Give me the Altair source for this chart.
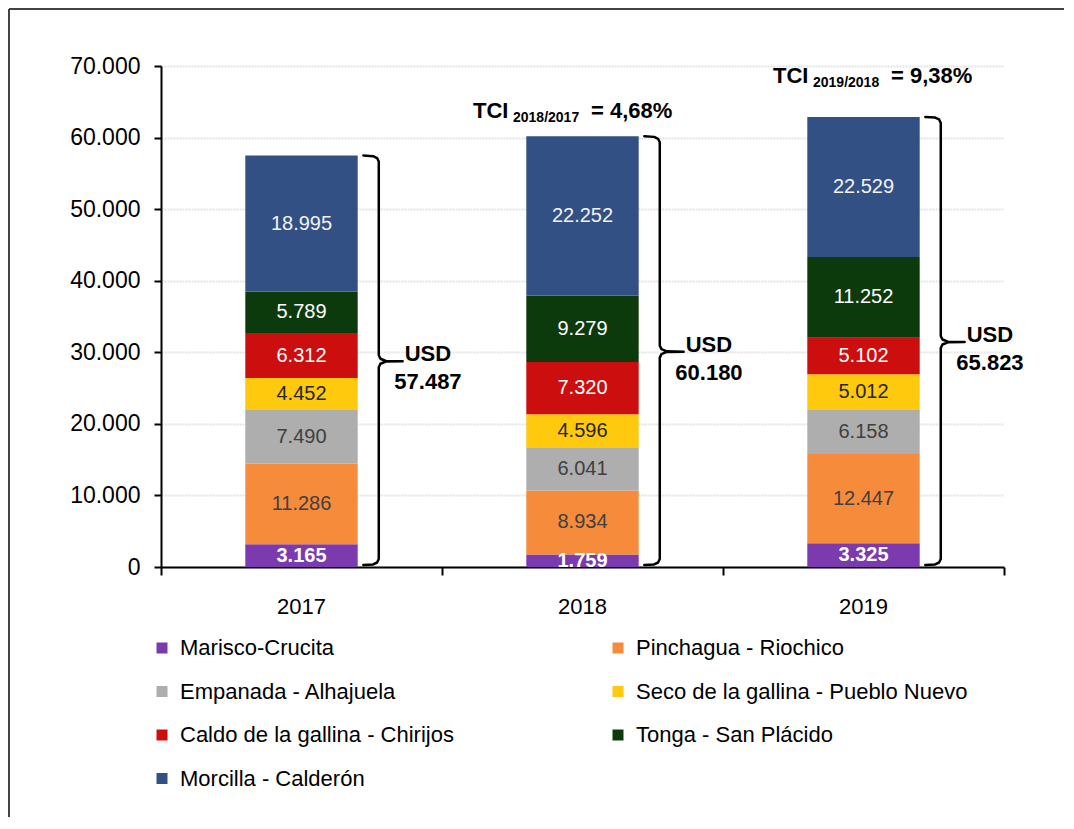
import altair as alt
import pandas as pd

# ---------------- data ----------------
years = ["2017", "2018", "2019"]
series = [
    "Marisco-Crucita",
    "Pinchagua - Riochico",
    "Empanada - Alhajuela",
    "Seco de la gallina - Pueblo Nuevo",
    "Caldo de la gallina - Chirijos",
    "Tonga - San Plácido",
    "Morcilla - Calderón",
]
marisco = [3165, 1759, 3325]
pinchagua = [11286, 8934, 12447]
empanada = [7490, 6041, 6158]
seco = [4452, 4596, 5012]
caldo = [6312, 7320, 5102]
tonga = [5789, 9279, 11252]
morcilla = [18995, 22252, 22529]
# length of the top (Morcilla) segment as it is drawn in the source picture
# (the 2019 segment is drawn shorter than its label says)
morcilla_drawn = [18995, 22252, 19580]
totals = [57487, 60180, 65823]
y_ticks = [0, 10000, 20000, 30000, 40000, 50000, 60000, 70000]

values_by_series = [marisco, pinchagua, empanada, seco, caldo, tonga, morcilla]
drawn_by_series = [marisco, pinchagua, empanada, seco, caldo, tonga, morcilla_drawn]
legend_order = [series[0], series[2], series[4], series[6], series[1], series[3], series[5]]

# ---------------- style / layout ----------------
FONT = "Liberation Sans"
bar_colors = ["#7B3AAE", "#F68B3C", "#AEAEAE", "#FFC90E", "#CC0E0E", "#0C3A0C", "#325084"]
label_colors = ["#FFFFFF", "#404040", "#404040", "#262626", "#FFFFFF", "#FFFFFF", "#F2F2F2"]
W, H = 843, 501
PAD = {"left": 153, "top": 58, "right": 60, "bottom": 250}
YMAX = 70000
UNIT = YMAX / H          # data units per pixel (y)
BAND = W / 3.0           # pixels per category (x)
HALF = 0.2               # bar half width in band units
BR_X0, BR_XV, BR_XT = 0.22, 0.275, 0.36
LBL_X = 0.45
TCI_DX = {"2018": -109.5, "2019": -90.5}   # px offset of "TCI" from bar centre
TCI_DY = {"2018": 18.6, "2019": 34.0}      # px above bar top (baseline)


def fmt(v):
    return f"{v:,}".replace(",", ".")


# ---------------- tables ----------------
rows = []
bar_tops = []
for yi, yr in enumerate(years):
    base = 0
    for si, s in enumerate(series):
        v = values_by_series[si][yi]
        d = drawn_by_series[si][yi]
        rows.append({
            "year": yr, "series": s, "idx": si,
            "xl": yi + 0.5 - HALF, "xr": yi + 0.5 + HALF, "xc": yi + 0.5,
            "y0": base, "y1": base + d, "ym": base + d / 2,
            "label": fmt(v), "lcolor": label_colors[si],
        })
        base += d
    bar_tops.append(base)
bars_df = pd.DataFrame(rows)

brace_rows = []
for yi, yr in enumerate(years):
    c = yi + 0.5
    T = bar_tops[yi]
    M = T / 2
    pts = [
        (BR_X0, T),
        (BR_X0 + 0.035, T - 0.6 * UNIT),
        (BR_XV - 0.006, T - 2.5 * UNIT),
        (BR_XV, T - 6 * UNIT),
        (BR_XV, M + 6 * UNIT),
        (BR_XV + 0.006, M + 2.5 * UNIT),
        (BR_XV + 0.025, M + 0.3 * UNIT),
        (BR_XT, M),
        (BR_XV + 0.025, M - 0.3 * UNIT),
        (BR_XV + 0.006, M - 2.5 * UNIT),
        (BR_XV, M - 6 * UNIT),
        (BR_XV, 8 * UNIT),
        (BR_XV - 0.006, 4.5 * UNIT),
        (BR_X0 + 0.035, 2.6 * UNIT),
        (BR_X0, 2 * UNIT),
    ]
    for k, (dx, yv) in enumerate(pts):
        brace_rows.append({"year": yr, "k": k, "x": c + dx, "y": yv})
brace_df = pd.DataFrame(brace_rows)

usd_df = pd.DataFrame({
    "x": [i + 0.5 + LBL_X for i in range(3)],
    "y": [t / 2 for t in bar_tops],
    "usd": ["USD"] * 3,
    "tot": [fmt(t) for t in totals],
})

tci_rows = []
for yi in range(1, 3):
    yr = years[yi]
    pct = (totals[yi] / totals[yi - 1] - 1) * 100
    x0 = yi + 0.5 + TCI_DX[yr] / BAND
    tci_rows.append({
        "x": x0, "y": bar_tops[yi] + TCI_DY[yr] * UNIT,
        "sub": f"{years[yi]}/{years[yi-1]}",
        "eq": "= " + f"{pct:.2f}".replace(".", ",") + "%",
    })
tci_df = pd.DataFrame(tci_rows)

year_df = pd.DataFrame({"x": [i + 0.5 for i in range(3)], "year": years, "y": [0] * 3})

# ---------------- scales ----------------
xscale = alt.Scale(domain=[0, 3], nice=False, zero=False)
yscale = alt.Scale(domain=[0, YMAX], nice=False)

x_axis = alt.Axis(values=[0, 1, 2, 3], labels=False, title=None, grid=False,
                  tickSize=8, tickWidth=2, tickColor="#000000",
                  domainColor="#000000", domainWidth=2)
y_axis = alt.Axis(values=y_ticks, title=None,
                  labelExpr="replace(format(datum.value, ',d'), ',', '.')",
                  labelFont=FONT, labelFontSize=23, labelColor="#000000",
                  labelPadding=14, tickSize=7, tickWidth=2, tickColor="#000000",
                  domainColor="#000000", domainWidth=2,
                  grid=True, gridColor="#E4E4E4", gridWidth=2, gridDash=[2, 1])

bars = alt.Chart(bars_df).mark_bar(stroke=None).encode(
    x=alt.X("xl:Q", scale=xscale, axis=x_axis),
    x2="xr:Q",
    y=alt.Y("y0:Q", scale=yscale, axis=y_axis),
    y2="y1:Q",
    color=alt.Color("series:N",
                    scale=alt.Scale(domain=series, range=bar_colors),
                    legend=alt.Legend(
                        title=None, orient="none", legendX=-10, legendY=571,
                        values=legend_order,
                        columns=2, gridAlign="all", symbolType="square",
                        symbolSize=121, symbolStrokeWidth=0,
                        labelFont=FONT, labelFontSize=22, labelColor="#000000",
                        labelLimit=600, labelOffset=7, rowPadding=21.5,
                        columnPadding=95)),
)

seg_text_bold = alt.Chart(bars_df).transform_filter("datum.idx == 0").mark_text(
    font=FONT, fontSize=20, fontWeight="bold", baseline="middle", align="center"
).encode(x="xc:Q", y="ym:Q", text="label:N", color=alt.Color("lcolor:N", scale=None))

seg_text = alt.Chart(bars_df).transform_filter("datum.idx > 0").mark_text(
    font=FONT, fontSize=20, baseline="middle", align="center"
).encode(x="xc:Q", y="ym:Q", text="label:N", color=alt.Color("lcolor:N", scale=None))

braces = alt.Chart(brace_df).mark_line(color="#000000", strokeWidth=2.5,
                                       strokeJoin="round", strokeCap="round").encode(
    x="x:Q", y="y:Q", detail="year:N", order="k:Q")

usd_text = alt.Chart(usd_df).mark_text(
    font=FONT, fontSize=22, fontWeight="bold", align="center", baseline="middle",
    dy=-7, color="#000000").encode(x="x:Q", y="y:Q", text="usd:N")
tot_text = alt.Chart(usd_df).mark_text(
    font=FONT, fontSize=22, fontWeight="bold", align="center", baseline="middle",
    dy=21, color="#000000").encode(x="x:Q", y="y:Q", text="tot:N")

tci_main = alt.Chart(tci_df).mark_text(
    font=FONT, fontSize=22, fontWeight="bold", align="left", baseline="alphabetic",
    color="#000000").encode(x="x:Q", y="y:Q", text=alt.value("TCI"))
tci_sub = alt.Chart(tci_df).mark_text(
    font=FONT, fontSize=14, fontWeight="bold", align="left", baseline="alphabetic",
    dx=40, dy=4, color="#000000").encode(x="x:Q", y="y:Q", text="sub:N")
tci_eq = alt.Chart(tci_df).mark_text(
    font=FONT, fontSize=22, fontWeight="bold", align="left", baseline="alphabetic",
    dx=118, color="#000000").encode(x="x:Q", y="y:Q", text="eq:N")

year_text = alt.Chart(year_df).mark_text(
    font=FONT, fontSize=22, align="center", baseline="middle", dy=40,
    color="#000000").encode(x="x:Q", y="y:Q", text="year:N")

frame_left = alt.Chart(year_df).mark_rule(color="#404040", strokeWidth=1.5).encode(
    x=alt.value(-152), y=alt.value(-57), y2=alt.value(H + PAD["bottom"]))
frame_top = alt.Chart(year_df).mark_rule(color="#404040", strokeWidth=1.5).encode(
    x=alt.value(-152), x2=alt.value(W + PAD["right"]), y=alt.value(-57))

chart = alt.layer(
    frame_left, frame_top, bars, seg_text, seg_text_bold, braces,
    usd_text, tot_text, tci_main, tci_sub, tci_eq, year_text,
).properties(
    width=W, height=H,
    autosize=alt.AutoSizeParams(type="none"),
    padding=PAD,
    background="#FFFFFF",
).configure_view(stroke=None)

chart.save("out.html", embed_options={"renderer": "svg", "actions": False})
